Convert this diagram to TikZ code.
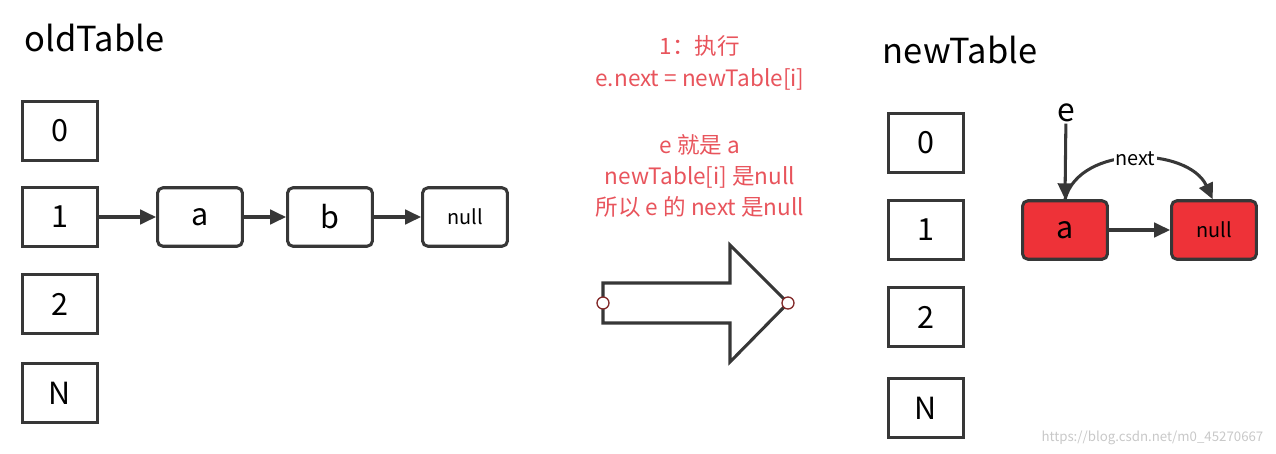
\documentclass[tikz,border=0pt]{standalone}
\usepackage{fontspec}
\setmainfont{Noto Sans CJK SC}
\usetikzlibrary{arrows.meta}
\definecolor{redtxt}{RGB}{232,84,92}
\definecolor{redbox}{RGB}{238,50,56}
\definecolor{edgegray}{RGB}{55,55,55}
\tikzset{
  cell/.style={draw=edgegray, line width=2.3pt, minimum width=2.0cm, minimum height=1.55cm, inner sep=0pt, font=\fontsize{23}{27}\selectfont},
  item/.style={draw=edgegray, line width=2.3pt, rounded corners=4pt, minimum width=2.25cm, minimum height=1.55cm, inner sep=0pt, font=\fontsize{23}{27}\selectfont},
  link/.style={-{Triangle[length=12pt,width=11pt]}, draw=edgegray, line width=2.3pt},
  note/.style={text=redtxt, font=\fontsize{17}{20}\selectfont, anchor=base}
}
\begin{document}
\begin{tikzpicture}[x=0.0265cm, y=-0.0265cm]
\useasboundingbox (0,0) rectangle (1276,454);
% old table
\node[anchor=base west, font=\fontsize{26}{30}\selectfont] (oldtitle) at (20,52) {oldTable};
\node[cell] (o0) at (60,131) {0};
\node[cell] (o1) at (60,217) {1};
\node[cell] (o2) at (60,304) {2};
\node[cell] (oN) at (60,393) {N};
\node[item] (a) at (200,217) {a};
\node[item] (b) at (330,217) {b};
\node[item, font=\fontsize{15}{18}\selectfont] (nul) at (465,217) {null};
\draw[link] (o1) -- (a);
\draw[link] (a) -- (b);
\draw[link] (b) -- (nul);
% notes
\node[note] (n1) at (700,55) {1：执行};
\node[note] (n2) at (700,86) {e.next = newTable[i]};
\node[note] (n3) at (700,153) {e 就是 a};
\node[note] (n4) at (700,184) {newTable[i] 是null};
\node[note] (n5) at (700,215) {所以 e 的 next 是null};
% big arrow
\draw[edgegray, line width=2.3pt, fill=white] (603,283) -- (730,283) -- (730,245) -- (788,303) -- (730,362) -- (730,323) -- (603,323) -- cycle;
\coordinate (tail) at (603,303);
\coordinate (tip) at (788,303);
\draw[draw={rgb,255:red,130;green,40;blue,40}, fill=white, line width=1pt] (tail) circle (6) (tip) circle (6);
% new table
\node[anchor=base west, font=\fontsize{26}{30}\selectfont] (newtitle) at (878,63) {newTable};
\node[cell] (m0) at (926,143) {0};
\node[cell] (m1) at (926,230) {1};
\node[cell] (m2) at (926,317) {2};
\node[cell] (mN) at (926,408) {N};
\node[item, fill=redbox] (ra) at (1065,230) {a};
\node[item, fill=redbox, font=\fontsize{15}{18}\selectfont] (rnul) at (1214,230) {null};
\draw[link] (ra) -- (rnul);
\node[font=\fontsize{24}{28}\selectfont, inner sep=1pt] (e) at (1066,113) {e};
\draw[link] (e) -- (ra.north);
\draw[link] (ra.north) to[out=75, in=115] node[fill=white, inner sep=1pt, font=\fontsize{15}{18}\selectfont] (nextlbl) {next} ([xshift=-1]rnul.north);
% watermark
\node[anchor=base east, text={rgb,255:red,200;green,200;blue,200}, font=\fontsize{10}{12}\selectfont] (mark) at (1268,441) {https://blog.csdn.net/m0\_45270667};
\end{tikzpicture}
\end{document}
